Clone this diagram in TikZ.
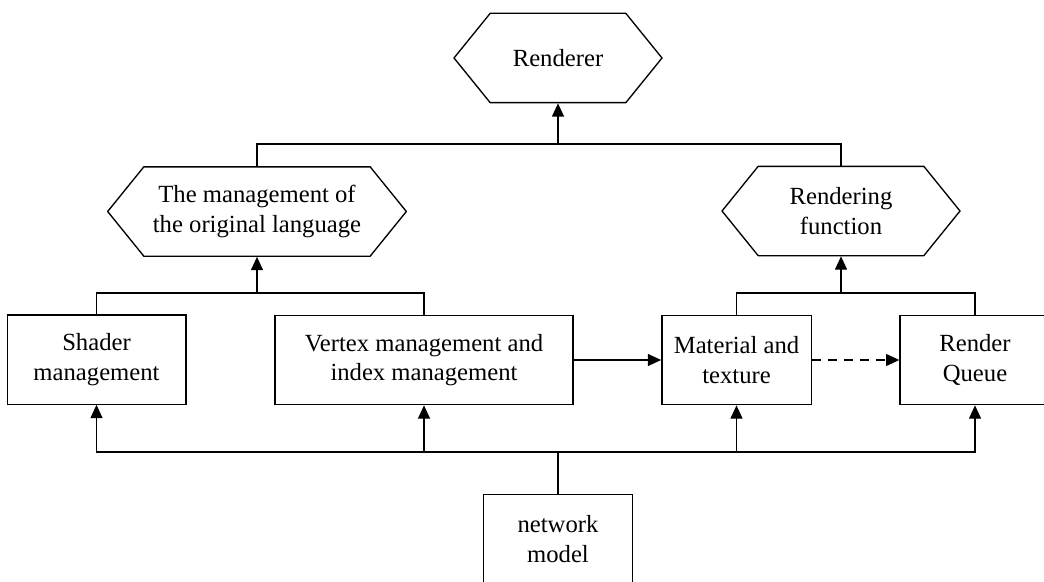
\documentclass[tikz,border=0pt]{standalone}
\usepackage{fontspec}
\setmainfont{Liberation Serif}
\usetikzlibrary{arrows.meta,shapes.symbols}
\tikzset{
    part/.style = {
        draw,
        rectangle,
        minimum height=67pt,
        inner sep=0pt,
        align=center,
        },
    group/.style = {
        draw,
        signal,
        signal to=west and east,
        signal pointer angle=102,
        minimum height=67pt,
        inner sep=0pt,
        align=center,
        },
    link/.style = {
        line width=1pt,
        -{Triangle[length=10pt,width=9pt]},
        },
    every node/.style = {
        font=\fontsize{18.5}{22}\selectfont,
        line width=1pt,
        },
}

\begin{document}
\begin{tikzpicture}[x=0.75pt,y=-0.75pt,line width=1pt]
            \useasboundingbox (0,0) rectangle (1044,581);
            \clip (0,0) rectangle (1044,581);

            \node[group, minimum width=156pt] (rend) at (558,58) {Renderer};
            \node[group, minimum width=224pt] (mgmt) at (257,211.5) {The management of\\the original language};
            \node[group, minimum width=178.5pt] (func) at (841,211) {Rendering\\function};
            \node[part, minimum width=134pt] (shader) at (96.5,359.5) {Shader\\management};
            \node[part, minimum width=223.5pt] (vertex) at (424,360) {Vertex management and\\index management};
            \node[part, minimum width=112pt] (mat) at (736.5,360) {Material and\\texture};
            \node[part, minimum width=112.5pt] (queue) at (975,360) {Render\\Queue};
            \node[part, minimum width=112pt] (net) at (558,539) {network\\model};

            \coordinate (top bus) at (558,144);
            \coordinate (mgmt bus) at (257,293);
            \coordinate (func bus) at (841,293);
            \coordinate (net bus) at (558,452);

            \draw[link] (top bus) -- (rend.south);
            \draw (mgmt.north) |- (top bus) -| (func.north);
            \draw[link] (mgmt bus) -- (mgmt.south);
            \draw (shader.north) |- (mgmt bus) -| (vertex.north);
            \draw[link] (func bus) -- (func.south);
            \draw (mat.north) |- (func bus) -| (queue.north);
            \draw (net.north) -- (net bus);
            \foreach \n in {shader,vertex,mat,queue}
                \draw[link] (net bus) -| (\n.south);
            \draw[link] (vertex) -- (mat);
            \draw[link, dash pattern=on 7pt off 5pt] (mat) -- (queue);
        \end{tikzpicture}
\end{document}
